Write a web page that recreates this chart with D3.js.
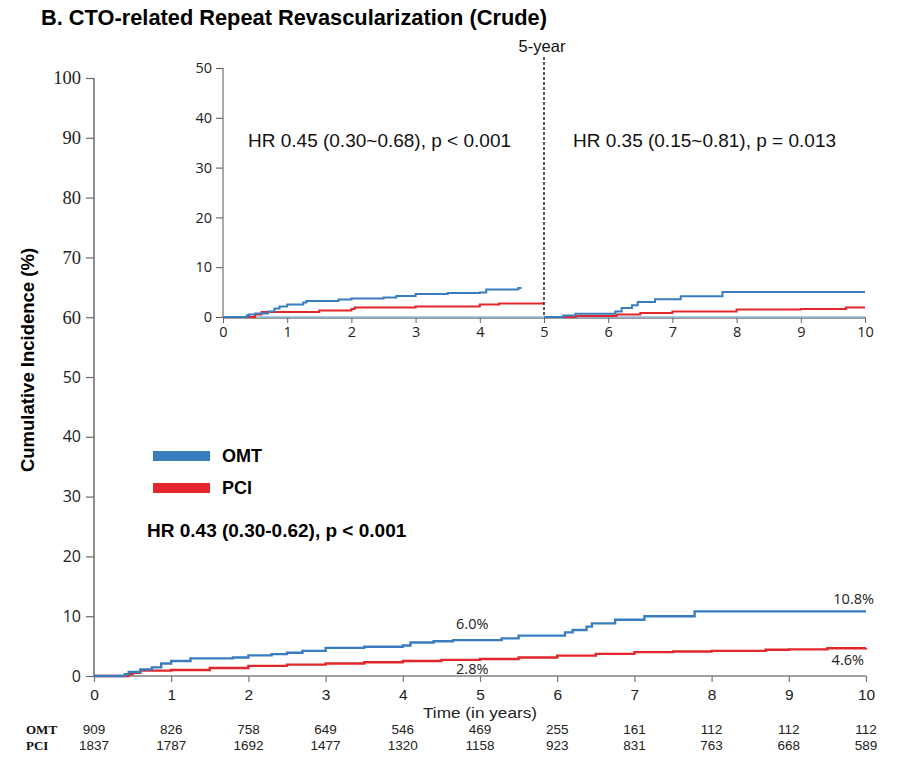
<!DOCTYPE html>
<html><head><meta charset="utf-8">
<script src="https://cdn.jsdelivr.net/npm/d3@7"></script>
<style>
body{margin:0;background:#fff;}
svg{display:block;}
</style></head>
<body>
<svg id="c" width="899" height="759"></svg>
<script>
// ---------- DATA ----------
const xTicks = [0,1,2,3,4,5,6,7,8,9,10];
const yTicksMain = [0,10,20,30,40,50,60,70,80,90,100];
const yTicksInset = [0,10,20,30,40,50];

// Main chart (cumulative incidence, %)
const omtT = [0,0.4,0.45,0.6,0.75,0.87,1.0,1.25,1.8,2.0,2.3,2.5,2.7,3.0,3.5,4.0,4.1,4.4,4.65,5.28,5.5,6.1,6.2,6.38,6.45,6.75,7.13,7.78,10];
const omtV = [0,0.3,0.67,1.1,1.45,2.1,2.5,2.95,3.1,3.45,3.65,3.9,4.2,4.7,4.9,5.1,5.6,5.8,6.0,6.3,6.75,7.3,7.7,8.25,8.8,9.4,10.0,10.8,10.8];
const pciT = [0,0.45,0.5,0.6,1.0,1.5,2.0,2.5,3.0,3.5,4.0,4.5,5.0,5.5,6.0,6.5,7.0,7.5,8.0,8.7,9.0,9.5,10];
const pciV = [0,0.3,0.55,0.9,1.0,1.35,1.7,1.9,2.1,2.3,2.5,2.7,2.85,3.1,3.4,3.7,4.0,4.1,4.2,4.4,4.45,4.65,4.7];

// Inset (landmark analysis)
const inOmt1T = [0,0.37,0.4,0.5,0.7,0.8,0.88,1.0,1.25,1.3,1.8,2.0,2.5,2.7,3.0,3.5,4.0,4.1,4.6,4.65];
const inOmt1V = [0,0.3,0.5,0.7,1.1,1.7,2.1,2.5,2.9,3.2,3.5,3.7,3.9,4.2,4.6,4.8,4.9,5.5,5.8,5.8];
const inPci1T = [0,0.5,0.6,1.5,2.0,2.05,3.0,4.0,4.3,5.0];
const inPci1V = [0,0.5,1.0,1.3,1.6,1.9,2.1,2.5,2.7,2.7];
const inOmt2T = [5,5.3,5.49,6.11,6.21,6.37,6.46,6.73,7.13,7.78,10];
const inOmt2V = [0,0.3,0.67,1.1,1.8,2.35,3.0,3.55,4.16,5.0,5.0];
const inPci2T = [5,5.5,6.13,6.5,7.0,8.0,9.0,9.7,10];
const inPci2V = [0,0.2,0.5,0.8,1.1,1.5,1.6,1.9,1.9];

// Risk table
const riskGroups = ["OMT","PCI"];
const riskOMT = [909,826,758,649,546,469,255,161,112,112,112];
const riskPCI = [1837,1787,1692,1477,1320,1158,923,831,763,668,589];

const seriesNames = ["OMT","PCI"];
const endLabels = {omt5:"6.0%", pci5:"2.8%", omt10:"10.8%", pci10:"4.6%"};
const hrMain = "HR 0.43 (0.30-0.62), p < 0.001";
const hrIn1 = "HR 0.45 (0.30~0.68), p < 0.001";
const hrIn2 = "HR 0.35 (0.15~0.81), p = 0.013";

// ---------- DRAW ----------
const BLUE = "#3a7dbf", RED = "#e3262b";
const SANS = "'Open Sans', 'Noto Sans', sans-serif";
const ARIAL = "'Liberation Sans', Arial, sans-serif";
const SERIF = "'Liberation Serif', 'Times New Roman', serif";

const svg = d3.select("#c");
const zip = (T,V) => T.map((t,i)=>[t,V[i]]);

// title
svg.append("text").attr("x",41).attr("y",25)
  .style("font-family",ARIAL).style("font-weight","bold").style("font-size","21.8px")
  .text("B. CTO-related Repeat Revascularization (Crude)");

// main scales
const x = d3.scaleLinear().domain([0,10]).range([94,866]);
const y = d3.scaleLinear().domain([0,100]).range([676,78]);

// main y axis
const yAx = svg.append("g").attr("transform","translate(94,0)")
  .call(d3.axisLeft(y).tickValues(yTicksMain).tickSize(8).tickPadding(5).tickFormat(d3.format("d")));
yAx.select(".domain").attr("stroke","#6b6b6b").attr("stroke-width",1.5).attr("d","M0,78V676");
yAx.selectAll(".tick line").attr("stroke","#6b6b6b").attr("stroke-width",1.2);
yAx.selectAll(".tick text").attr("fill","#222")
  .style("font-family",d=> d>=60 ? SERIF : SANS)
  .style("font-size",d=> d>=60 ? "18.5px" : "16px");

// main x axis
const xAx = svg.append("g").attr("transform","translate(0,676)")
  .call(d3.axisBottom(x).tickValues(xTicks).tickSize(6).tickPadding(7).tickFormat(d3.format("d")));
xAx.select(".domain").attr("stroke","#a0a0a0").attr("stroke-width",2).attr("d","M94,0H866");
xAx.selectAll(".tick line").attr("stroke","#777").attr("stroke-width",1.2);
xAx.selectAll(".tick text").attr("fill","#222").style("font-family",ARIAL).style("font-size","15.5px");

// y label
svg.append("text").attr("transform","translate(34,360) rotate(-90)").attr("text-anchor","middle")
  .style("font-family",ARIAL).style("font-weight","bold").style("font-size","18.5px")
  .text("Cumulative Incidence (%)");

// main curves
const line = d3.line().x(d=>x(d[0])).y(d=>y(d[1])).curve(d3.curveStepAfter);
svg.append("path").attr("d",line(zip(pciT,pciV))).attr("fill","none").attr("stroke",RED).attr("stroke-width",2.4);
svg.append("path").attr("d",line(zip(omtT,omtV))).attr("fill","none").attr("stroke",BLUE).attr("stroke-width",2.4);

// end labels
const lab = (t,anchor,xx,yy)=>svg.append("text").attr("x",xx).attr("y",yy).attr("text-anchor",anchor)
  .attr("dominant-baseline","central").style("font-family",SANS).style("font-size","14.5px").attr("fill","#222").text(t);
lab(endLabels.omt5,"middle",x(4.9),y(8.7));
lab(endLabels.pci5,"middle",x(4.9),y(1.3));
lab(endLabels.omt10,"end",x(10)+8,y(12.9));
lab(endLabels.pci10,"end",x(10)-2,y(2.7));

// legend
const legY = [456,488];
const legCol = [BLUE,RED];
seriesNames.forEach((s,i)=>{
  svg.append("rect").attr("x",153).attr("y",legY[i]-5).attr("width",57).attr("height",10).attr("fill",legCol[i]);
  svg.append("text").attr("x",222).attr("y",legY[i]).attr("dominant-baseline","central")
    .style("font-family",ARIAL).style("font-weight","bold").style("font-size","18px").text(s);
});
svg.append("text").attr("x",147).attr("y",530).attr("dominant-baseline","central")
  .style("font-family",ARIAL).style("font-weight","bold").style("font-size","19px").text(hrMain);

// ---------- INSET ----------
const xi = d3.scaleLinear().domain([0,10]).range([223,865]);
const yi = d3.scaleLinear().domain([0,50]).range([317,68]);

const yiAx = svg.append("g").attr("transform","translate(223,0)")
  .call(d3.axisLeft(yi).tickValues(yTicksInset).tickSize(7).tickPadding(4).tickFormat(d3.format("d")));
yiAx.select(".domain").attr("stroke","#555").attr("stroke-width",1).attr("d","M0,68V317");
yiAx.selectAll(".tick line").attr("stroke","#555");
yiAx.selectAll(".tick text").attr("fill","#222").style("font-family",SANS).style("font-size","14.5px");

const xiAx = svg.append("g").attr("transform","translate(0,317)")
  .call(d3.axisBottom(xi).tickValues(xTicks).tickSize(6).tickPadding(4).tickFormat(d3.format("d")));
xiAx.select(".domain").attr("stroke","#9a9a9a").attr("stroke-width",2.2).attr("d","M223,1H865");
xiAx.selectAll(".tick line").attr("stroke","#666");
xiAx.selectAll(".tick text").attr("fill","#222").style("font-family",SANS).style("font-size","14.5px");

// light blue baseline
svg.append("line").attr("x1",xi(0)).attr("x2",xi(10)).attr("y1",yi(0)).attr("y2",yi(0))
  .attr("stroke","#8fb9e0").attr("stroke-width",1.6);

const iline = d3.line().x(d=>xi(d[0])).y(d=>yi(d[1])).curve(d3.curveStepAfter);
[[inPci1T,inPci1V,RED],[inOmt1T,inOmt1V,BLUE],[inPci2T,inPci2V,RED],[inOmt2T,inOmt2V,BLUE]].forEach(([T,V,c])=>{
  svg.append("path").attr("d",iline(zip(T,V))).attr("fill","none").attr("stroke",c).attr("stroke-width",2);
});

// 5-year dashed line
svg.append("line").attr("x1",xi(5)).attr("x2",xi(5)).attr("y1",57).attr("y2",yi(0)-2)
  .attr("stroke","#111").attr("stroke-width",1.4).attr("stroke-dasharray","3,2");
svg.append("text").attr("x",xi(5)-2).attr("y",46).attr("text-anchor","middle").attr("dominant-baseline","central")
  .style("font-family",ARIAL).style("font-size","16.5px").attr("fill","#111").text("5-year");

svg.append("text").attr("x",248).attr("y",140).attr("dominant-baseline","central")
  .style("font-family",ARIAL).style("font-size","19px").attr("fill","#111").text(hrIn1);
svg.append("text").attr("x",573).attr("y",140).attr("dominant-baseline","central")
  .style("font-family",ARIAL).style("font-size","19px").attr("fill","#111").text(hrIn2);

// ---------- RISK TABLE ----------
svg.append("text").attr("x",x(5)).attr("y",712).attr("text-anchor","middle").attr("dominant-baseline","central")
  .attr("textLength",114).attr("lengthAdjust","spacingAndGlyphs")
  .style("font-family",ARIAL).style("font-size","15px").attr("fill","#222").text("Time (in years)");
const rows = [riskOMT,riskPCI];
const rowY = [729.5,745];
riskGroups.forEach((g,i)=>{
  svg.append("text").attr("x",26).attr("y",rowY[i]).attr("dominant-baseline","central")
    .style("font-family",SERIF).style("font-weight","bold").style("font-size","13px").attr("fill","#111").text(g);
  svg.selectAll(null).data(rows[i]).enter().append("text")
    .attr("x",(d,k)=>x(xTicks[k])).attr("y",rowY[i]).attr("text-anchor","middle").attr("dominant-baseline","central")
    .style("font-family",ARIAL).style("font-size","13.5px").attr("fill","#222").text(d=>d);
});
</script>
</body></html>
